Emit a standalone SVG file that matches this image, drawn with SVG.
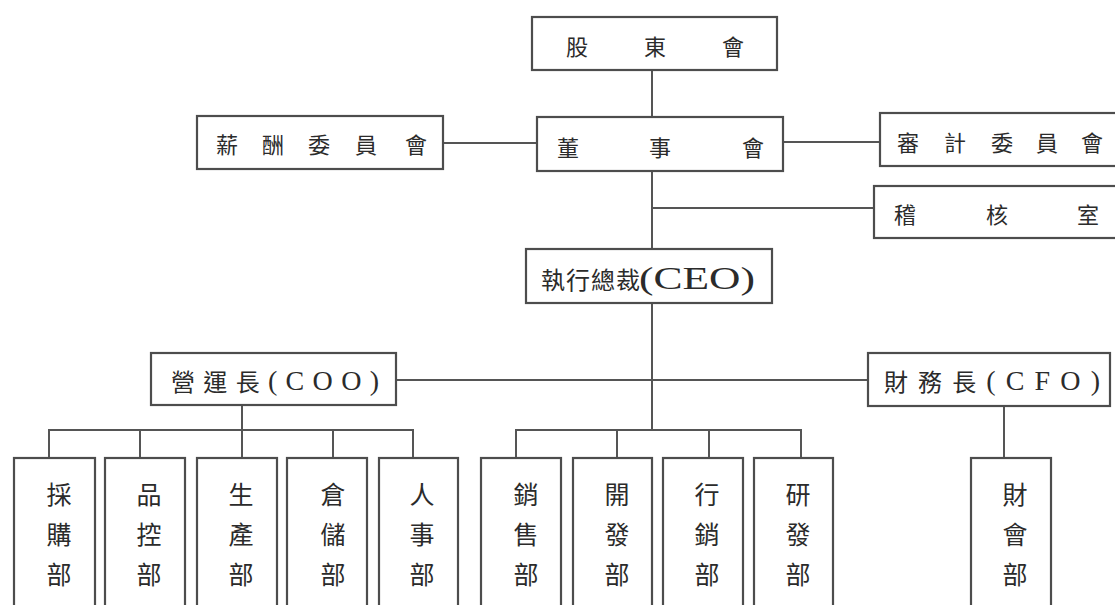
<svg xmlns="http://www.w3.org/2000/svg" width="1115" height="605" viewBox="0 0 1115 605">
<style>
.box{fill:#fff;stroke:#4d4d4d;stroke-width:2.2}
.ln{fill:none;stroke:#555;stroke-width:2}
.t{font-family:"Noto Sans CJK TC","Noto Sans CJK SC",serif;font-size:22px;fill:#2b2b2b;text-anchor:middle;dominant-baseline:central}
.v{font-size:25px}
.lat{font-family:"Liberation Serif","Noto Sans CJK TC",serif;font-size:28px}
.s{text-anchor:start}
</style>
<rect width="1115" height="605" fill="#fff"/>
<g id="connectors">
<path class="ln" d="M652 70V117M652 171V249M443 143H537M783 142H880M652 208H874M652 303V430M396 380H868M242 405V458"/>
<path class="ln" d="M49 458V430H413V458M140 430V458M333 430V458"/>
<path class="ln" d="M516 458V430H801V458M617 430V458M709 430V458"/>
<path class="ln" d="M1004 406V458"/>
</g>
<g id="shareholders"><rect class="box" x="532" y="17" width="245" height="53"/><text class="t" x="577 655 733" y="45 45 45">股東會</text></g>
<g id="board"><rect class="box" x="537" y="117" width="246" height="54"/><text class="t" x="568 660 753" y="146 146 146">董事會</text></g>
<g id="compensation"><rect class="box" x="197" y="116" width="246" height="53"/><text class="t" x="227 273 319 366 416" y="143 143 143 143 143">薪酬委員會</text></g>
<g id="audit-committee"><rect class="box" x="880" y="113" width="250" height="53"/><text class="t" x="908 955 1002 1047 1092" y="141 141 141 141 141">審計委員會</text></g>
<g id="internal-audit"><rect class="box" x="874" y="186" width="260" height="52"/><text class="t" x="905 997 1088" y="213 213 213">稽核室</text></g>
<g id="ceo"><rect class="box" x="526" y="249" width="246" height="54"/><text class="t s" x="541" y="278" style="font-size:24px" letter-spacing="1">執行總裁</text><text class="t s lat" x="639" y="278" style="font-size:31px;font-weight:normal" textLength="116" lengthAdjust="spacingAndGlyphs">(CEO)</text></g>
<g id="coo"><rect class="box" x="151" y="353" width="245" height="52"/><text class="t" x="275" y="380" textLength="208" lengthAdjust="spacing"><tspan style="font-size:24px">營運長</tspan><tspan class="lat">(COO)</tspan></text></g>
<g id="cfo"><rect class="box" x="868" y="353" width="242" height="53"/><text class="t" x="992" y="380" textLength="216" lengthAdjust="spacing"><tspan style="font-size:24px">財務長</tspan><tspan class="lat">(CFO)</tspan></text></g>
<g id="purchasing"><rect class="box" x="14" y="458" width="81" height="160"/><text class="t v" x="59 59 59" y="493 533 573">採購部</text></g>
<g id="qc"><rect class="box" x="105" y="458" width="80" height="160"/><text class="t v" x="149 149 149" y="493 533 573">品控部</text></g>
<g id="production"><rect class="box" x="197" y="458" width="80" height="160"/><text class="t v" x="241 241 241" y="493 533 573">生產部</text></g>
<g id="warehouse"><rect class="box" x="287" y="458" width="80" height="160"/><text class="t v" x="333 333 333" y="493 533 573">倉儲部</text></g>
<g id="hr"><rect class="box" x="379" y="458" width="79" height="160"/><text class="t v" x="422 422 422" y="493 533 573">人事部</text></g>
<g id="sales"><rect class="box" x="481" y="458" width="80" height="160"/><text class="t v" x="526 526 526" y="493 533 573">銷售部</text></g>
<g id="bizdev"><rect class="box" x="573" y="458" width="79" height="160"/><text class="t v" x="617 617 617" y="493 533 573">開發部</text></g>
<g id="marketing"><rect class="box" x="663" y="458" width="80" height="160"/><text class="t v" x="707 707 707" y="493 533 573">行銷部</text></g>
<g id="rnd"><rect class="box" x="754" y="458" width="79" height="160"/><text class="t v" x="798 798 798" y="493 533 573">研發部</text></g>
<g id="accounting"><rect class="box" x="971" y="458" width="80" height="160"/><text class="t v" x="1015 1015 1015" y="493 533 573">財會部</text></g>
</svg>
